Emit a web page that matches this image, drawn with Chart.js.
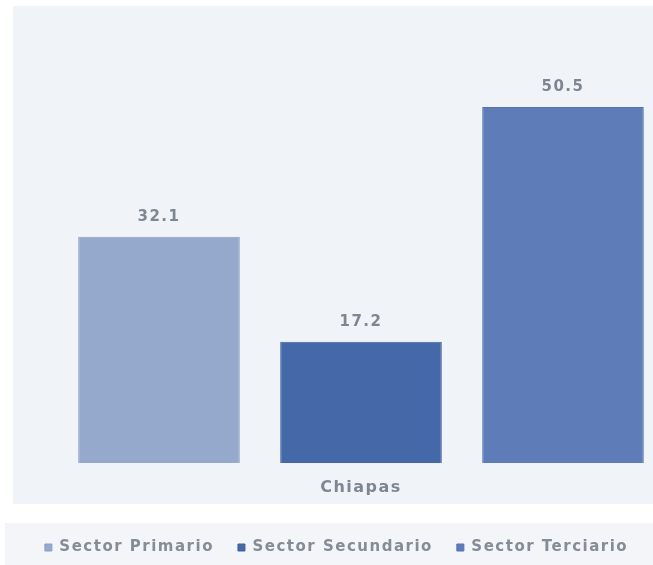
<!DOCTYPE html>
<html>
<head>
<meta charset="utf-8">
<script src="https://cdn.jsdelivr.net/npm/chart.js@4.4.1/dist/chart.umd.min.js"></script>
<style>
  html, body { margin: 0; padding: 0; background: #ffffff; overflow: hidden; width: 653px; height: 565px; }
  #panel { position: absolute; left: 13px; top: 6px; width: 640px; height: 498px; background: #f0f4f8; }
  #legendStrip { position: absolute; left: 5px; top: 523px; width: 648px; height: 42px; background: #f3f5f8; }
  #wrap { position: absolute; left: 0; top: 0; width: 680px; height: 565px; }
</style>
</head>
<body>
<div id="panel"></div>
<div id="legendStrip"></div>
<div id="wrap"><canvas id="c"></canvas></div>
<script>
const categories = ['Chiapas'];
const seriesNames = ['Sector Primario', 'Sector Secundario', 'Sector Terciario'];
const sectorPrimario = [32.1];
const sectorSecundario = [17.2];
const sectorTerciario = [50.5];
const seriesColors = ['#95a9cd', '#4568a9', '#5d7cb8'];
const seriesBorders = ['#8a9ec4', '#3e60a0', '#5673b0'];

const textGray = '#7e8692';

const spacingPlugin = {
  id: 'spacing',
  beforeLayout(chart) { chart.ctx.letterSpacing = '1.5px'; },
  beforeDraw(chart) { chart.ctx.letterSpacing = '1.5px'; }
};

const valueLabels = {
  id: 'valueLabels',
  afterDatasetsDraw(chart) {
    const ctx = chart.ctx;
    ctx.save();
    ctx.letterSpacing = '1.5px';
    ctx.font = 'bold 15px "DejaVu Sans"';
    ctx.fillStyle = textGray;
    ctx.textAlign = 'center';
    ctx.textBaseline = 'middle';
    chart.data.datasets.forEach((ds, i) => {
      const meta = chart.getDatasetMeta(i);
      meta.data.forEach((bar, j) => {
        ctx.fillText(ds.data[j].toFixed(1), bar.x, bar.y - 20);
      });
    });
    ctx.restore();
  }
};

const seriesData = [sectorPrimario, sectorSecundario, sectorTerciario];

new Chart(document.getElementById('c'), {
  type: 'bar',
  data: {
    labels: categories,
    datasets: seriesNames.map((name, i) => ({
      label: name,
      data: seriesData[i],
      backgroundColor: seriesColors[i],
      borderColor: seriesBorders[i],
      borderWidth: 1
    }))
  },
  options: {
    responsive: true,
    maintainAspectRatio: false,
    animation: false,
    layout: { padding: { left: 9, right: 16, top: 40, bottom: 0 } },
    datasets: { bar: { categoryPercentage: 1.0, barPercentage: 0.8 } },
    scales: {
      x: {
        grid: { display: false, drawTicks: false },
        border: { display: false },
        ticks: {
          color: textGray,
          font: { family: 'DejaVu Sans', size: 16, weight: 'bold' },
          padding: 15
        },
        afterFit(axis) { axis.height = 53; }
      },
      y: {
        min: 0,
        max: 60,
        grid: { display: false, drawTicks: false },
        border: { display: false },
        ticks: { display: false },
        afterFit(axis) { axis.width = 49; }
      }
    },
    plugins: {
      legend: {
        position: 'bottom',
        labels: {
          color: '#858c97',
          font: { family: 'DejaVu Sans', size: 15, weight: 'bold' },
          boxWidth: 7,
          boxHeight: 7,
          padding: 24
        }
      },
      tooltip: { enabled: false }
    }
  },
  plugins: [spacingPlugin, valueLabels]
});
</script>
</body>
</html>
